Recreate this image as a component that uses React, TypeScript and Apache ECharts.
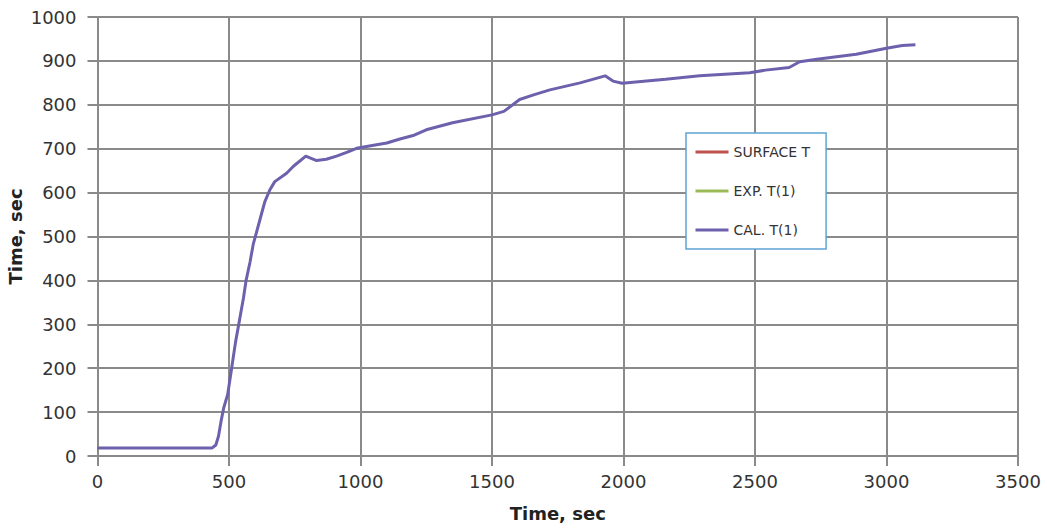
import React, { useEffect, useRef } from "react";
import * as echarts from "echarts";

const timeSec = [0, 100, 200, 300, 400, 435, 450, 460, 470, 480, 495, 510, 525, 540, 555, 565, 580, 592, 617, 636, 655, 674, 719, 745, 792, 808, 833, 870, 909, 950, 985, 1050, 1100, 1150, 1200, 1250, 1350, 1500, 1545, 1605, 1655, 1720, 1835, 1930, 1960, 1995, 2160, 2290, 2480, 2540, 2630, 2670, 2735, 2885, 3000, 3060, 3110];
const calT = [18, 18, 18, 18, 18, 18, 25, 45, 80, 110, 140, 200, 260, 310, 360, 400, 442, 482, 537, 579, 606, 625, 644, 660, 683, 679, 673, 676, 683, 692, 701, 708, 713, 722, 730, 743, 759, 777, 785, 812, 822, 834, 850, 866, 854, 849, 858, 866, 873, 879, 885, 898, 904, 915, 929, 935, 937];
const surfaceT: number[][] = [];
const expT: number[][] = [];
const seriesNames = ["SURFACE T", "EXP. T(1)", "CAL. T(1)"];
const seriesColors = ["#c0504d", "#9bbb59", "#6c61ad"];

export default function App() {
  const ref = useRef<HTMLDivElement>(null);
  useEffect(() => {
    const chart = echarts.init(ref.current!, null, { renderer: "svg" });
    const gridColor = "#8a8a8a";
    const font = "DejaVu Sans";
    chart.setOption({
      animation: false,
      backgroundColor: "#ffffff",
      grid: { left: 97.5, right: 29, top: 17, bottom: 72, containLabel: false, outerBoundsMode: "none" },
      legend: {
        orient: "vertical",
        left: 686,
        top: 133,
        padding: [12, 16, 12, 8],
        itemGap: 25,
        itemWidth: 33,
        itemHeight: 14,
        borderColor: "#5ea4d4",
        borderWidth: 1.5,
        backgroundColor: "#ffffff",
        itemStyle: { opacity: 0 },
        lineStyle: { width: 3 },
        textStyle: { fontFamily: font, fontSize: 14, color: "#333333" },
        data: seriesNames,
      },
      xAxis: {
        type: "value",
        min: 0,
        max: 3500,
        interval: 500,
        name: "Time, sec",
        nameLocation: "middle",
        nameGap: 48,
        nameMoveOverlap: false,
        nameTextStyle: { fontFamily: font, fontSize: 18, fontWeight: "bold", color: "#222" },
        axisLine: { show: true, lineStyle: { color: gridColor, width: 2 } },
        axisTick: { show: true, length: 10, lineStyle: { color: gridColor, width: 2 } },
        axisLabel: { fontFamily: font, fontSize: 18, color: "#333", margin: 16, formatter: (v: number) => String(v) },
        splitLine: { show: true, lineStyle: { color: gridColor, width: 2 } },
      },
      yAxis: {
        type: "value",
        min: 0,
        max: 1000,
        interval: 100,
        name: "Time, sec",
        nameLocation: "middle",
        nameGap: 73,
        nameMoveOverlap: false,
        nameTextStyle: { fontFamily: font, fontSize: 18, fontWeight: "bold", color: "#222" },
        axisLine: { show: true, lineStyle: { color: gridColor, width: 2 } },
        axisTick: { show: true, length: 10, lineStyle: { color: gridColor, width: 2 } },
        axisLabel: { fontFamily: font, fontSize: 18, color: "#333", margin: 21, formatter: (v: number) => String(v) },
        splitLine: { show: true, lineStyle: { color: gridColor, width: 2 } },
      },
      series: [
        { name: seriesNames[0], type: "line", data: surfaceT, symbol: "none", color: seriesColors[0], lineStyle: { width: 3 } },
        { name: seriesNames[1], type: "line", data: expT, symbol: "none", color: seriesColors[1], lineStyle: { width: 3 } },
        {
          name: seriesNames[2],
          type: "line",
          data: timeSec.map((t, i) => [t, calT[i]]),
          symbol: "none",
          color: seriesColors[2],
          lineStyle: { width: 3 },
        },
      ],
    });
    return () => chart.dispose();
  }, []);
  return <div ref={ref} style={{ position: "fixed", left: 0, top: 0, width: 1047, height: 528 }} />;
}
